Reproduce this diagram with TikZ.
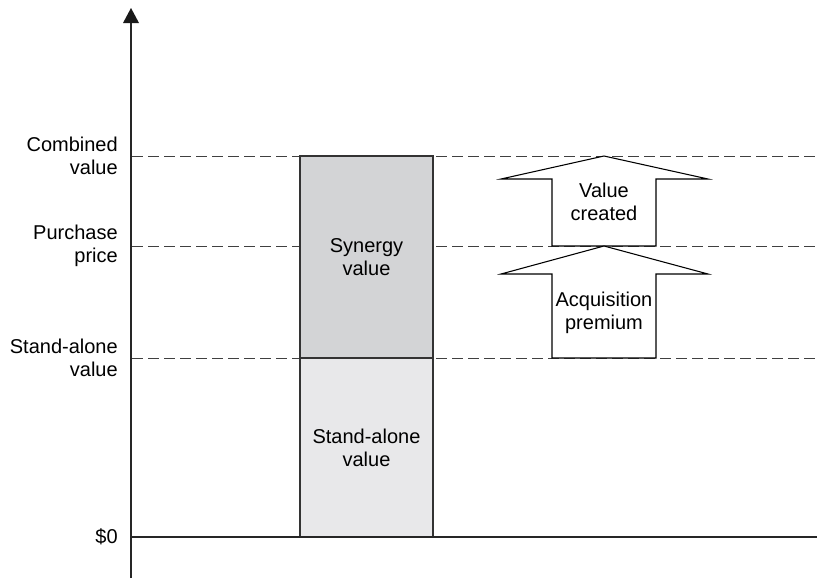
\documentclass[tikz,border=0pt]{standalone}
\usepackage{fontspec}
\setmainfont{Liberation Sans}
\begin{document}
\begin{tikzpicture}[x=0.75pt,y=-0.75pt,
  lbl/.style={font=\fontsize{15}{17}\selectfont, align=center, inner sep=0pt},
  axlbl/.style={lbl, align=right, anchor=east},
  guide/.style={draw=black!75, line width=0.75pt, dash pattern=on 8pt off 4pt},
  barbox/.style={draw=black!80, line width=0.9pt},
  bigarrow/.style={draw=black, line width=0.8pt, fill=white, line join=miter}]
\useasboundingbox (0,0) rectangle (817,578);

% value levels
\coordinate (yC) at (0,156);
\coordinate (yP) at (0,246);
\coordinate (yS) at (0,358);
\coordinate (y0) at (0,537);

% dashed guide lines
\draw[guide] (132,156) -- (817,156);
\draw[guide] (132,246) -- (817,246);
\draw[guide] (132,358) -- (817,358);

% stacked bar
\fill[black!6!white, fill={rgb,255:red,232;green,232;blue,234}] (300,358) rectangle (433,537);
\fill[fill={rgb,255:red,211;green,212;blue,214}] (300,156) rectangle (433,358);
\draw[barbox] (300,156) rectangle (433,537);
\draw[barbox] (300,358) -- (433,358);
\node[lbl] (syn) at (366.5,257) {Synergy\\value};
\node[lbl] (sa) at (366.5,448) {Stand-alone\\value};

% block arrows
\draw[bigarrow] (604,156) -- (708,179) -- (656,179) -- (656,246) -- (552,246) -- (552,179) -- (501,179) -- cycle;
\draw[bigarrow] (604,246) -- (708,274) -- (656,274) -- (656,358) -- (552,358) -- (552,274) -- (501,274) -- cycle;
\node[lbl] (vc) at (604,202) {Value\\created};
\node[lbl] (ap) at (604,313) {Acquisition\\premium};

% axes
\coordinate (ytop) at (131,8);
\coordinate (ybot) at (131,578);
\coordinate (xend) at (817,537);
\draw[line width=1.1pt, black!85] (ybot) -- (131,22);
\fill[black!90] (ytop) -- (139,23) -- (123,23) -- cycle;
\draw[line width=1.1pt, black!85] (131,537) -- (xend);

% axis labels
\node[axlbl] (lc) at (118,156) {Combined\\value};
\node[axlbl] (lp) at (118,246) {Purchase\\price};
\node[axlbl] (ls) at (118,358) {Stand-alone\\value};
\node[axlbl] (l0) at (118,537) {\$0};
\end{tikzpicture}
\end{document}
